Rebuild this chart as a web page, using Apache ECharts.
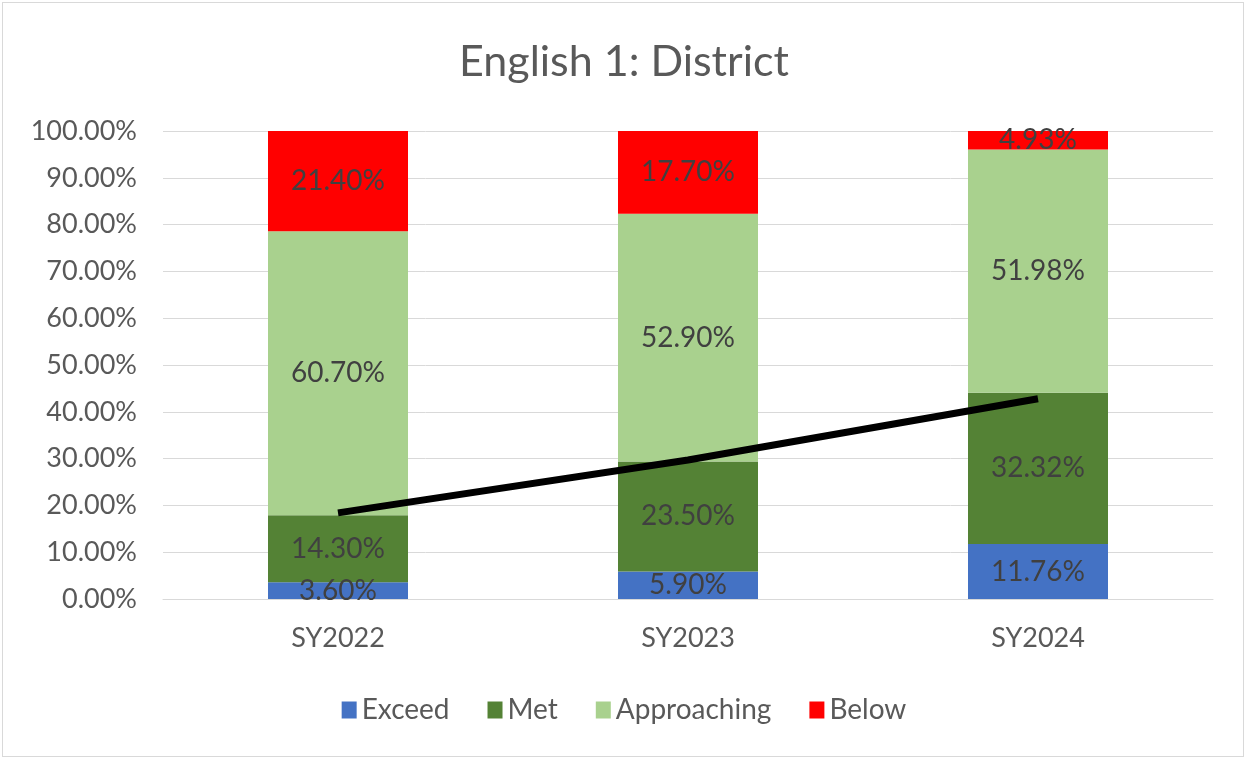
<!DOCTYPE html>
<html>
<head>
<meta charset="utf-8">
<script src="https://cdn.jsdelivr.net/npm/echarts@6/dist/echarts.min.js"></script>
<style>
  html, body { margin: 0; padding: 0; background: #fff; }
  #frame { position: absolute; left: 2px; top: 2px; width: 1240px; height: 753px; border: 1px solid #d9d9d9; }
  #chart { position: absolute; left: 0; top: 0; width: 1248px; height: 759px; }
</style>
</head>
<body>
<div id="frame"></div>
<div id="chart"></div>
<script>
// 学年
const years = ['SY2022', 'SY2023', 'SY2024'];
// 各等级占比 (%)
const exceed = [3.60, 5.90, 11.76];
const met = [14.30, 23.50, 32.32];
const approaching = [60.70, 52.90, 51.98];
const below = [21.40, 17.70, 4.93];
// 趋势线
const trend = [18.4, 29.7, 42.8];
const yTicks = [0, 10, 20, 30, 40, 50, 60, 70, 80, 90, 100];

const font = 'Lato, "Open Sans", sans-serif';

const chart = echarts.init(document.getElementById('chart'));

function barSeries(name, data, color) {
  return {
    name: name,
    type: 'bar',
    stack: 'total',
    data: data,
    barWidth: '40%',
    itemStyle: { color: color },
    label: {
      show: true,
      position: 'inside',
      color: '#404040',
      fontSize: 28,
      fontFamily: font,
      formatter: p => p.value.toFixed(2) + '%'
    },
    z: 2
  };
}

const option = {
  animation: false,
  title: {
    text: 'English 1: District',
    left: 'center',
    top: 36,
    textStyle: { color: '#595959', fontSize: 43, fontWeight: 'normal', fontFamily: font }
  },
  legend: {
    data: ['Exceed', 'Met', 'Approaching', 'Below'],
    bottom: 30,
    left: 'center',
    icon: 'rect',
    itemWidth: 15,
    itemHeight: 17,
    itemGap: 38,
    textStyle: { color: '#595959', fontSize: 28, fontFamily: font }
  },
  grid: { left: 163, right: 35, top: 131, bottom: 160 },
  xAxis: {
    type: 'category',
    data: years,
    axisLine: { lineStyle: { color: '#d9d9d9', width: 1 } },
    axisTick: { show: false },
    axisLabel: { color: '#595959', fontSize: 27, fontFamily: font, margin: 26 }
  },
  yAxis: {
    type: 'value',
    min: 0,
    max: 100,
    interval: 10,
    axisLine: { show: false },
    axisTick: { show: false },
    splitLine: { lineStyle: { color: '#d9d9d9', width: 1 } },
    axisLabel: {
      color: '#595959',
      fontSize: 27,
      fontFamily: font,
      margin: 26,
      formatter: v => yTicks.includes(v) ? v.toFixed(2) + '%' : ''
    }
  },
  series: [
    barSeries('Exceed', exceed, '#4472C4'),
    barSeries('Met', met, '#548235'),
    barSeries('Approaching', approaching, '#A9D18E'),
    barSeries('Below', below, '#FF0000'),
    {
      name: 'Trend',
      type: 'line',
      data: trend,
      symbol: 'none',
      lineStyle: { color: '#000', width: 7 },
      z: 5
    }
  ]
};

chart.setOption(option);
</script>
</body>
</html>
